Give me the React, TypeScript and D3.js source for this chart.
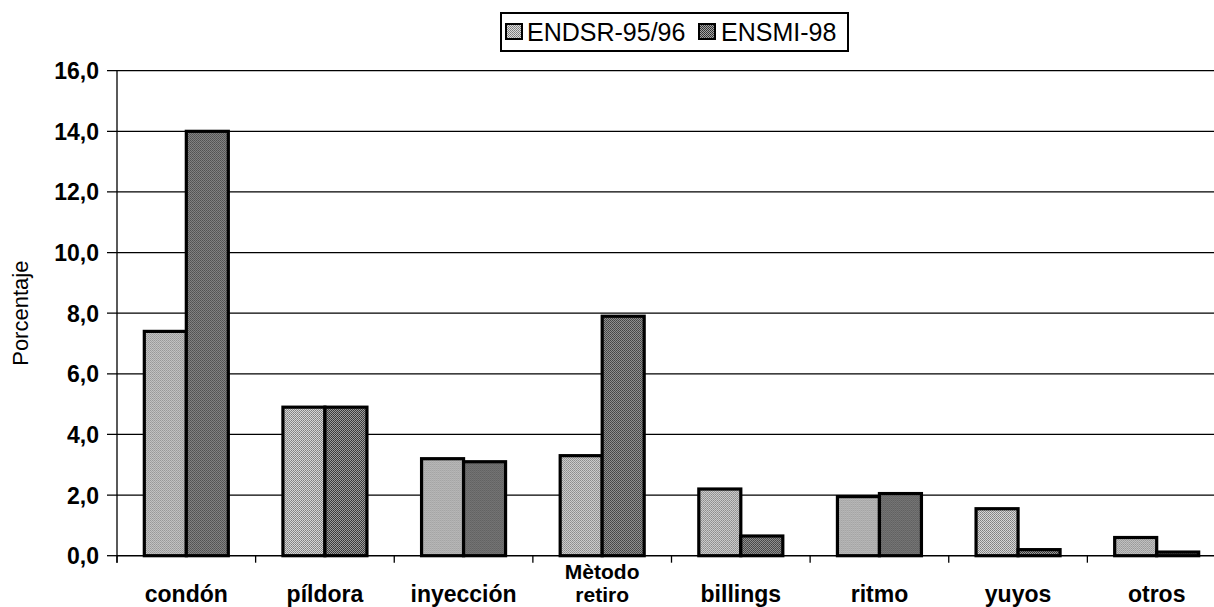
import React from "react"
import * as d3 from "d3"

const categories = ["condón", "píldora", "inyección", "Mètodo retiro", "billings", "ritmo", "yuyos", "otros"]
const seriesNames = ["ENDSR-95/96", "ENSMI-98"]
const endsr = [7.4, 4.9, 3.2, 3.3, 2.2, 1.95, 1.55, 0.6]
const ensmi = [14.0, 4.9, 3.1, 7.9, 0.65, 2.05, 0.2, 0.12]
const yTicks = [0, 2, 4, 6, 8, 10, 12, 14, 16]

const W = 1214
const H = 607
const margin = { left: 117, top: 70.7, bottom: 555.7, right: 1226 }
const font = "'Liberation Sans', Arial, Helvetica, sans-serif"

export default function App() {
  const x0 = d3
    .scaleBand<string>()
    .domain(categories)
    .range([margin.left, margin.right])
    .paddingInner(0.394)
    .paddingOuter(0.197)
  const x1 = d3.scaleBand<string>().domain(seriesNames).range([0, x0.bandwidth()])
  const y = d3.scaleLinear().domain([0, 16]).range([margin.bottom, margin.top])

  const step = x0.step()
  const boundaries = categories.map(c => (x0(c) as number) - (step * 0.394) / 2)

  const fills = ["url(#light)", "url(#dark)"]
  const data = [endsr, ensmi]

  return (
    <svg
      width={W}
      height={H}
      style={{ position: "absolute", left: 0, top: 0, background: "#fff" }}
      fontFamily={font}
    >
      <defs>
        <pattern id="light" width={2} height={2} patternUnits="userSpaceOnUse">
          <rect width={2} height={2} fill="#dcdcdc" />
          <rect width={1} height={1} fill="#7a7a7a" />
          <rect x={1} y={1} width={1} height={1} fill="#8a8a8a" />
        </pattern>
        <pattern id="dark" width={2} height={2} patternUnits="userSpaceOnUse">
          <rect width={2} height={2} fill="#a4a4a4" />
          <rect width={1} height={1} fill="#2e2e2e" />
          <rect x={1} y={1} width={1} height={1} fill="#3a3a3a" />
        </pattern>
        <clipPath id="clip">
          <rect x={0} y={0} width={W} height={H} />
        </clipPath>
      </defs>

      <g clipPath="url(#clip)">
        {/* grid lines + left ticks */}
        {yTicks.map(t => (
          <g key={t}>
            <line
              x1={margin.left - 10}
              x2={t > 0 ? W : margin.left}
              y1={y(t)}
              y2={y(t)}
              stroke="#000"
              strokeWidth={1.3}
            />
            <text x={99} y={y(t) + 8.5} textAnchor="end" fontSize={23} fontWeight="bold">
              {t.toFixed(1).replace(".", ",")}
            </text>
          </g>
        ))}

        {/* bars */}
        {categories.map((c, i) => (
          <g key={c} transform={`translate(${x0(c)},0)`}>
            {seriesNames.map((s, j) => (
              <rect
                key={s}
                x={x1(s)}
                y={y(data[j][i])}
                width={x1.bandwidth()}
                height={y(0) - y(data[j][i])}
                fill={fills[j]}
                stroke="#000"
                strokeWidth={3.2}
              />
            ))}
          </g>
        ))}

        {/* axes */}
        <line x1={margin.left} x2={margin.left} y1={margin.top} y2={margin.bottom + 7} stroke="#000" strokeWidth={1.3} />
        <line x1={margin.left} x2={W} y1={y(0)} y2={y(0)} stroke="#000" strokeWidth={1.5} />
        {boundaries.map((b, i) => (
          <line key={i} x1={b} x2={b} y1={y(0)} y2={y(0) + 7} stroke="#000" strokeWidth={1.3} />
        ))}

        {/* category labels */}
        {categories.map(c => {
          const cx = (x0(c) as number) + x0.bandwidth() / 2
          const parts = c.split(" ")
          if (parts.length > 1) {
            return (
              <g key={c}>
                <text x={cx} y={579} textAnchor="middle" fontSize={21} fontWeight="bold">
                  {parts[0]}
                </text>
                <text x={cx} y={602} textAnchor="middle" fontSize={21} fontWeight="bold">
                  {parts[1]}
                </text>
              </g>
            )
          }
          return (
            <text key={c} x={cx} y={602} textAnchor="middle" fontSize={23} fontWeight="bold">
              {c}
            </text>
          )
        })}

        {/* y axis title */}
        <text
          transform={`translate(28, ${(margin.top + margin.bottom) / 2}) rotate(-90)`}
          textAnchor="middle"
          fontSize={22}
        >
          Porcentaje
        </text>

        {/* legend */}
        <rect x={501} y={13} width={347} height={38} fill="#fff" stroke="#000" strokeWidth={2} />
        <rect x={506} y={24} width={16} height={15} fill={fills[0]} stroke="#000" strokeWidth={2} />
        <text x={527} y={41} fontSize={25}>{seriesNames[0]}</text>
        <rect x={699} y={24} width={16} height={15} fill={fills[1]} stroke="#000" strokeWidth={2} />
        <text x={721} y={41} fontSize={25}>{seriesNames[1]}</text>
      </g>
    </svg>
  )
}
